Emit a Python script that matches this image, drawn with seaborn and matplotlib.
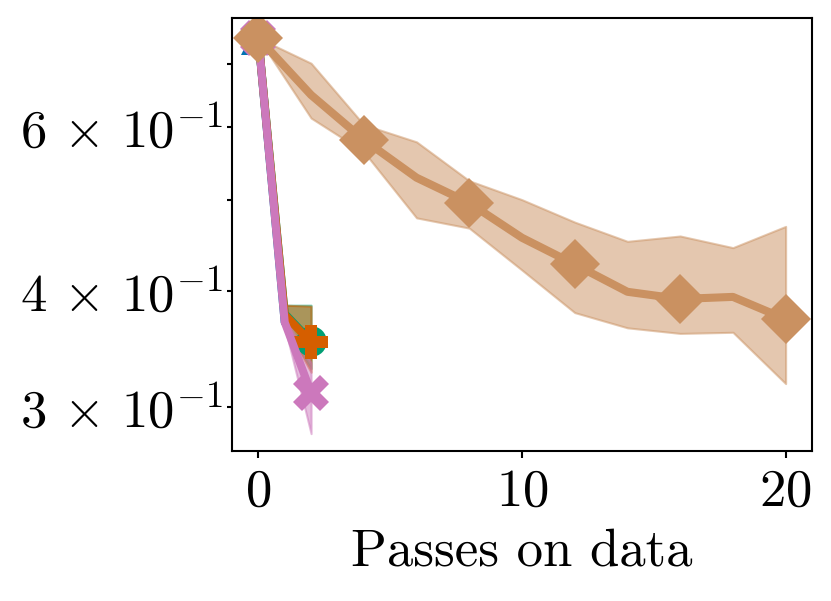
import numpy as np
import pandas as pd
import matplotlib
matplotlib.use("Agg")
import matplotlib.pyplot as plt
from matplotlib.ticker import FuncFormatter, NullFormatter
import seaborn as sns

sns.set_style("ticks")
plt.rcParams['font.family'] = 'serif'
plt.rcParams['font.serif'] = ['cmr10']
plt.rcParams['mathtext.fontset'] = 'cm'
plt.rcParams['axes.formatter.use_mathtext'] = True
plt.rcParams['axes.unicode_minus'] = True
plt.rcParams['text.color'] = 'black'
plt.rcParams['axes.labelcolor'] = 'black'

# 长序列 (每两个pass一个点)
passes_long = [0, 2, 4, 6, 8, 10, 12, 14, 16, 18, 20]
tan_mean = [0.747, 0.649, 0.581, 0.529, 0.497, 0.456, 0.427, 0.399, 0.392, 0.394, 0.373]
tan_lo = [0.747, 0.613, 0.564, 0.479, 0.467, 0.421, 0.379, 0.365, 0.360, 0.361, 0.318]
tan_hi = [0.747, 0.702, 0.603, 0.578, 0.525, 0.501, 0.474, 0.452, 0.458, 0.445, 0.469]

# 短序列
passes_short = [0, 1, 2]
blue_mean = [0.747, 0.370]
green_mean = [0.747, 0.378, 0.353]
green_lo = [0.747, 0.366, 0.330]
green_hi = [0.747, 0.386, 0.386]
red_mean = [0.747, 0.377, 0.352]
red_lo = [0.747, 0.368, 0.327]
red_hi = [0.747, 0.386, 0.385]
pink_mean = [0.747, 0.370, 0.311]
pink_lo = [0.747, 0.366, 0.281]
pink_hi = [0.747, 0.374, 0.335]

# y轴标注的刻度 (尾数)
ylabel_mantissas = [3, 4, 6]

fig = plt.figure(figsize=(8.31, 6.01), dpi=100)
ax = fig.add_axes([232/831, 150/601, 580/831, 433/601])

line_kw = dict(linewidth=5.8, markevery=2, markeredgewidth=0)

sns.lineplot(x=passes_short[:2], y=blue_mean, ax=ax, color='#0173b2', marker='^', markersize=25, **line_kw)

ax.fill_between(passes_short, green_lo, green_hi, color='#029e73', alpha=0.5, linewidth=1.5)
sns.lineplot(x=passes_short, y=green_mean, ax=ax, color='#029e73', marker='o', markersize=22, **line_kw)

ax.fill_between(passes_short, red_lo, red_hi, color='#d55e00', alpha=0.5, linewidth=1.5)
sns.lineplot(x=passes_short, y=red_mean, ax=ax, color='#d55e00', marker='P', markersize=25, **line_kw)

ax.fill_between(passes_short, pink_lo, pink_hi, color='#cc78bc', alpha=0.5, linewidth=1.5)
sns.lineplot(x=passes_short, y=pink_mean, ax=ax, color='#cc78bc', marker='X', markersize=26, **line_kw)

ax.fill_between(passes_long, tan_lo, tan_hi, color='#ca9161', alpha=0.5, linewidth=1.5)
sns.lineplot(x=passes_long, y=tan_mean, ax=ax, color='#ca9161', marker='D', markersize=25, **line_kw)

ax.set_yscale('log')
ax.set_ylim(0.2692, 0.785)
ax.set_xlim(-1, 21)
ax.set_xticks([0, 10, 20])


def fmt_y(v, pos):
    m = v * 10
    if min(abs(m - k) for k in ylabel_mantissas) < 1e-6:
        return r'$%d\,\times\,10^{-1}$' % round(m)
    return ''


ax.yaxis.set_major_formatter(NullFormatter())
ax.yaxis.set_minor_formatter(FuncFormatter(fmt_y))

ax.set_xlabel("Passes on data", fontsize=38, labelpad=9.5)
ax.set_ylabel("")

for s in ax.spines.values():
    s.set_color('black')
    s.set_linewidth(1.5)
ax.tick_params(which='both', direction='out', colors='black', width=1.5, labelsize=38)
ax.tick_params(axis='x', pad=7.5)
ax.tick_params(which='major', length=5)
ax.tick_params(which='minor', length=3.5)

fig.savefig('out.png', dpi=100)
